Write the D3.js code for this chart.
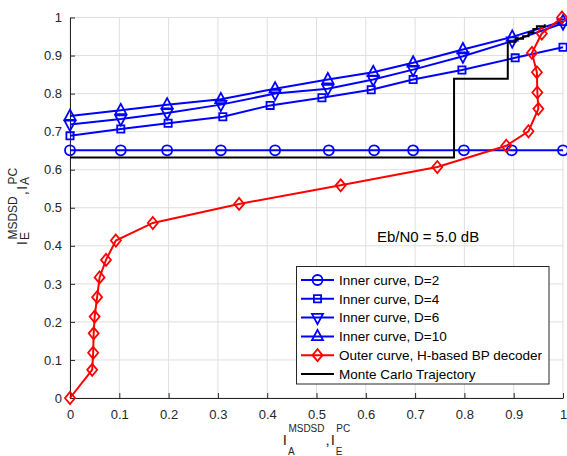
<!DOCTYPE html>
<html>
<head>
<meta charset="utf-8">
<script src="https://cdn.jsdelivr.net/npm/d3@7/dist/d3.min.js"></script>
<style>
  html, body { margin: 0; padding: 0; background: #fff; }
  svg { display: block; font-family: "Liberation Sans", Arial, sans-serif; }
</style>
</head>
<body>
<svg id="chart" width="567" height="456"></svg>
<script>
// EXIT chart: inner demodulator curves vs. outer decoder curve
const tickValues = [0, 0.1, 0.2, 0.3, 0.4, 0.5, 0.6, 0.7, 0.8, 0.9, 1];
const tickLabels = ["0", "0.1", "0.2", "0.3", "0.4", "0.5", "0.6", "0.7", "0.8", "0.9", "1"];

const innerD2X  = [0, 0.103, 0.197, 0.306, 0.416, 0.525, 0.617, 0.696, 0.799, 0.896, 1.0];
const innerD2Y  = [0.651, 0.651, 0.651, 0.651, 0.651, 0.651, 0.651, 0.651, 0.651, 0.651, 0.651];
const innerD4X  = [0, 0.103, 0.199, 0.310, 0.406, 0.511, 0.611, 0.696, 0.795, 0.903, 1.0];
const innerD4Y  = [0.689, 0.707, 0.722, 0.739, 0.769, 0.789, 0.810, 0.837, 0.862, 0.894, 0.922];
const innerD6X  = [0, 0.103, 0.197, 0.306, 0.416, 0.523, 0.615, 0.696, 0.797, 0.897, 1.0];
const innerD6Y  = [0.719, 0.733, 0.749, 0.771, 0.800, 0.813, 0.837, 0.863, 0.898, 0.938, 0.985];
const innerD10X = [0, 0.103, 0.197, 0.306, 0.416, 0.523, 0.615, 0.696, 0.797, 0.897, 1.0];
const innerD10Y = [0.741, 0.756, 0.771, 0.785, 0.813, 0.837, 0.856, 0.881, 0.916, 0.949, 0.990];

const outerX = [0, 0.045, 0.047, 0.048, 0.050, 0.055, 0.060, 0.073, 0.093, 0.168, 0.343, 0.549, 0.745, 0.885, 0.930, 0.950, 0.948, 0.947, 0.937, 0.957, 0.998];
const outerY = [0, 0.074, 0.119, 0.170, 0.214, 0.265, 0.317, 0.363, 0.414, 0.460, 0.510, 0.559, 0.607, 0.663, 0.701, 0.760, 0.803, 0.856, 0.907, 0.958, 1.0];

const trajX = [0, 0.779, 0.779, 0.888, 0.888, 0.904, 0.904, 0.919, 0.919, 0.930, 0.930, 0.940, 0.940, 0.947, 0.947, 0.963, 0.963];
const trajY = [0.632, 0.632, 0.839, 0.839, 0.936, 0.936, 0.944, 0.944, 0.951, 0.951, 0.960, 0.960, 0.970, 0.970, 0.977, 0.977, 0.982];

const seriesNames = ["Inner curve, D=2", "Inner curve, D=4", "Inner curve, D=6", "Inner curve, D=10",
                     "Outer curve, H-based BP decoder", "Monte Carlo Trajectory"];
const annotation = "Eb/N0 = 5.0 dB";

const BLUE = "#0000ff", RED = "#ff0000", BLACK = "#000000";
const series = [
  { name: seriesNames[0], xs: innerD2X,  ys: innerD2Y,  color: BLUE,  marker: "circle" },
  { name: seriesNames[1], xs: innerD4X,  ys: innerD4Y,  color: BLUE,  marker: "square" },
  { name: seriesNames[2], xs: innerD6X,  ys: innerD6Y,  color: BLUE,  marker: "tridown" },
  { name: seriesNames[3], xs: innerD10X, ys: innerD10Y, color: BLUE,  marker: "triup" },
  { name: seriesNames[4], xs: outerX,    ys: outerY,    color: RED,   marker: "diamond" },
  { name: seriesNames[5], xs: trajX,     ys: trajY,     color: BLACK, marker: null }
];

const svg = d3.select("#chart");
const plotL = 70, plotR = 563, plotT = 17.5, plotB = 398;
const x = d3.scaleLinear().domain([0, 1]).range([plotL, plotR]);
const y = d3.scaleLinear().domain([0, 1]).range([plotB, plotT]);
const AXIS = "#262626";

// grid
const grid = svg.append("g");
grid.selectAll("line.gx").data(tickValues).join("line").attr("class", "gx")
  .attr("x1", d => x(d)).attr("x2", d => x(d)).attr("y1", plotT).attr("y2", plotB)
  .attr("stroke", "#dfdfdf").attr("stroke-width", 1);
grid.selectAll("line.gy").data(tickValues).join("line").attr("class", "gy")
  .attr("y1", d => y(d)).attr("y2", d => y(d)).attr("x1", plotL).attr("x2", plotR)
  .attr("stroke", "#dfdfdf").attr("stroke-width", 1);

// axes (ticks pointing inward)
const xAxis = d3.axisBottom(x).tickValues(tickValues).tickFormat((d, i) => tickLabels[i])
  .tickSizeInner(-5).tickSizeOuter(0).tickPadding(12);
const yAxis = d3.axisLeft(y).tickValues(tickValues).tickFormat((d, i) => tickLabels[i])
  .tickSizeInner(-5).tickSizeOuter(0).tickPadding(8);
const gx = svg.append("g").attr("transform", `translate(0,${plotB})`).call(xAxis);
const gy = svg.append("g").attr("transform", `translate(${plotL},0)`).call(yAxis);
[gx, gy].forEach(g => {
  g.select(".domain").attr("stroke", AXIS).attr("stroke-width", 1);
  g.selectAll(".tick line").attr("stroke", AXIS);
  g.selectAll(".tick text").attr("fill", AXIS).style("font-size", "13px")
    .style("font-family", "'Liberation Sans', Arial, sans-serif");
});

// marker shapes
function markerPath(type, cx, cy) {
  const p = d3.path();
  if (type === "circle") { p.moveTo(cx + 5, cy); p.arc(cx, cy, 5, 0, 2 * Math.PI); }
  else if (type === "square") { p.rect(cx - 3.6, cy - 3.6, 7.2, 7.2); }
  else if (type === "triup") { p.moveTo(cx, cy - 6.5); p.lineTo(cx + 5.5, cy + 3.8); p.lineTo(cx - 5.5, cy + 3.8); p.closePath(); }
  else if (type === "tridown") { p.moveTo(cx, cy + 6.5); p.lineTo(cx + 5.5, cy - 3.8); p.lineTo(cx - 5.5, cy - 3.8); p.closePath(); }
  else if (type === "diamond") { p.moveTo(cx, cy - 6); p.lineTo(cx + 5, cy); p.lineTo(cx, cy + 6); p.lineTo(cx - 5, cy); p.closePath(); }
  return p.toString();
}

const line = d3.line().x(d => x(d[0])).y(d => y(d[1]));
const plot = svg.append("g");
series.forEach(s => {
  const pts = s.xs.map((v, i) => [v, s.ys[i]]);
  plot.append("path").attr("d", line(pts)).attr("fill", "none")
    .attr("stroke", s.color).attr("stroke-width", 2).attr("stroke-linejoin", "miter");
  if (s.marker) {
    plot.append("g").selectAll("path").data(pts).join("path")
      .attr("d", d => markerPath(s.marker, x(d[0]), y(d[1])))
      .attr("fill", "none").attr("stroke", s.color).attr("stroke-width", 1.8);
  }
});

// annotation
svg.append("text").attr("x", 377).attr("y", 241.5).attr("fill", "#000")
  .style("font-size", "15px").text(annotation);

// legend
const lg = svg.append("g");
lg.append("rect").attr("x", 296.5).attr("y", 266.5).attr("width", 252.5).attr("height", 117.5)
  .attr("fill", "#fff").attr("stroke", AXIS).attr("stroke-width", 1);
series.forEach((s, i) => {
  const cy = 280 + i * 18.8;
  lg.append("line").attr("x1", 301).attr("x2", 334).attr("y1", cy).attr("y2", cy)
    .attr("stroke", s.color).attr("stroke-width", 2);
  if (s.marker) lg.append("path").attr("d", markerPath(s.marker, 317.5, cy))
    .attr("fill", "none").attr("stroke", s.color).attr("stroke-width", 1.8);
  lg.append("text").attr("x", 339).attr("y", cy + 4.8).attr("fill", "#000")
    .style("font-size", "13.5px").text(s.name);
});

// axis titles with stacked super/subscripts
function stackedLabel(g, parts, baseSize, scriptSize, supDy, subDy) {
  let cx = 0;
  parts.forEach((p, k) => {
    if (k > 0) {
      const c = g.append("text").attr("x", cx).attr("y", 0).style("font-size", baseSize + "px").attr("fill", AXIS).text(",");
      cx += c.node().getComputedTextLength() + 1;
    }
    const b = g.append("text").attr("x", cx).attr("y", 0).style("font-size", baseSize + "px").attr("fill", AXIS).text(p.base);
    cx += b.node().getComputedTextLength() + 1.5;
    const sp = g.append("text").attr("x", cx).attr("y", supDy).style("font-size", scriptSize + "px").attr("fill", AXIS).text(p.sup);
    const sb = g.append("text").attr("x", cx - 0.5).attr("y", subDy).style("font-size", scriptSize + "px").attr("fill", AXIS).text(p.sub);
    cx += Math.max(sp.node().getComputedTextLength(), sb.node().getComputedTextLength()) + 1;
  });
  return cx;
}
const xl = svg.append("g");
const xw = stackedLabel(xl, [{ base: "I", sup: "MSDSD", sub: "A" }, { base: "I", sup: "PC", sub: "E" }], 15, 10, -13.5, 10);
xl.attr("transform", `translate(${316 - xw / 2 + 1},445)`);

const yl = svg.append("g");
const yw = stackedLabel(yl, [{ base: "I", sup: "MSDSD", sub: "E" }, { base: "I", sup: "PC", sub: "A" }], 15, 12, -10, 2);
yl.attr("transform", `translate(27,${206 + yw / 2}) rotate(-90)`);
</script>
</body>
</html>
